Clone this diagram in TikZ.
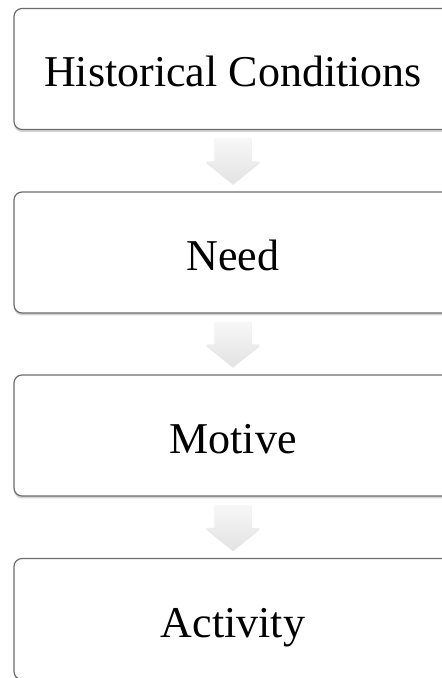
\documentclass[tikz,border=0pt]{standalone}
\usepackage{fontspec}
\setmainfont{Liberation Serif}
\usetikzlibrary{calc,shadows}

\tikzset{
	stagebox/.style={draw=gray!85!black,line width=1.2pt,fill=white,rounded corners=8pt,
		minimum width=438pt,minimum height=121pt,font=\fontsize{44}{50}\selectfont,
		text height=40pt,text depth=4pt,
		drop shadow={shadow xshift=0pt,shadow yshift=-2.5pt,opacity=0.35}},
	flowarrow/.style={top color=gray!6,bottom color=gray!22,draw=none,
		drop shadow={shadow xshift=0pt,shadow yshift=-1.5pt,opacity=0.2}}
}

\newcommand{\flowarrowbetween}[2]{%
	\path[flowarrow] let \p1=($(#1.south)+(0,-8pt)$), \p2=($(#2.north)+(0,8pt)$) in
		(\x1-18.5pt,\y1) -- (\x1+18.5pt,\y1) -- (\x1+18.5pt,\y2+22pt) -- (\x1+27pt,\y2+22pt)
		-- (\x1,\y2) -- (\x1-27pt,\y2+22pt) -- (\x1-18.5pt,\y2+22pt) -- cycle;}

\begin{document}
\begin{tikzpicture}[x=1pt,y=1pt]
	
	\useasboundingbox (0,0) rectangle (442,678);
	
	% Draw the four stages
	\node[stagebox] (hist) at (233,609) {Historical Conditions};
	\node[stagebox] (need) at (233,425.5) {Need};
	\node[stagebox] (motive) at (233,242.5) {Motive};
	\node[stagebox] (activity) at (233,59) {Activity};
	
	% Draw the arrows between them
	\flowarrowbetween{hist}{need}
	\flowarrowbetween{need}{motive}
	\flowarrowbetween{motive}{activity}
	
\end{tikzpicture}
\end{document}
